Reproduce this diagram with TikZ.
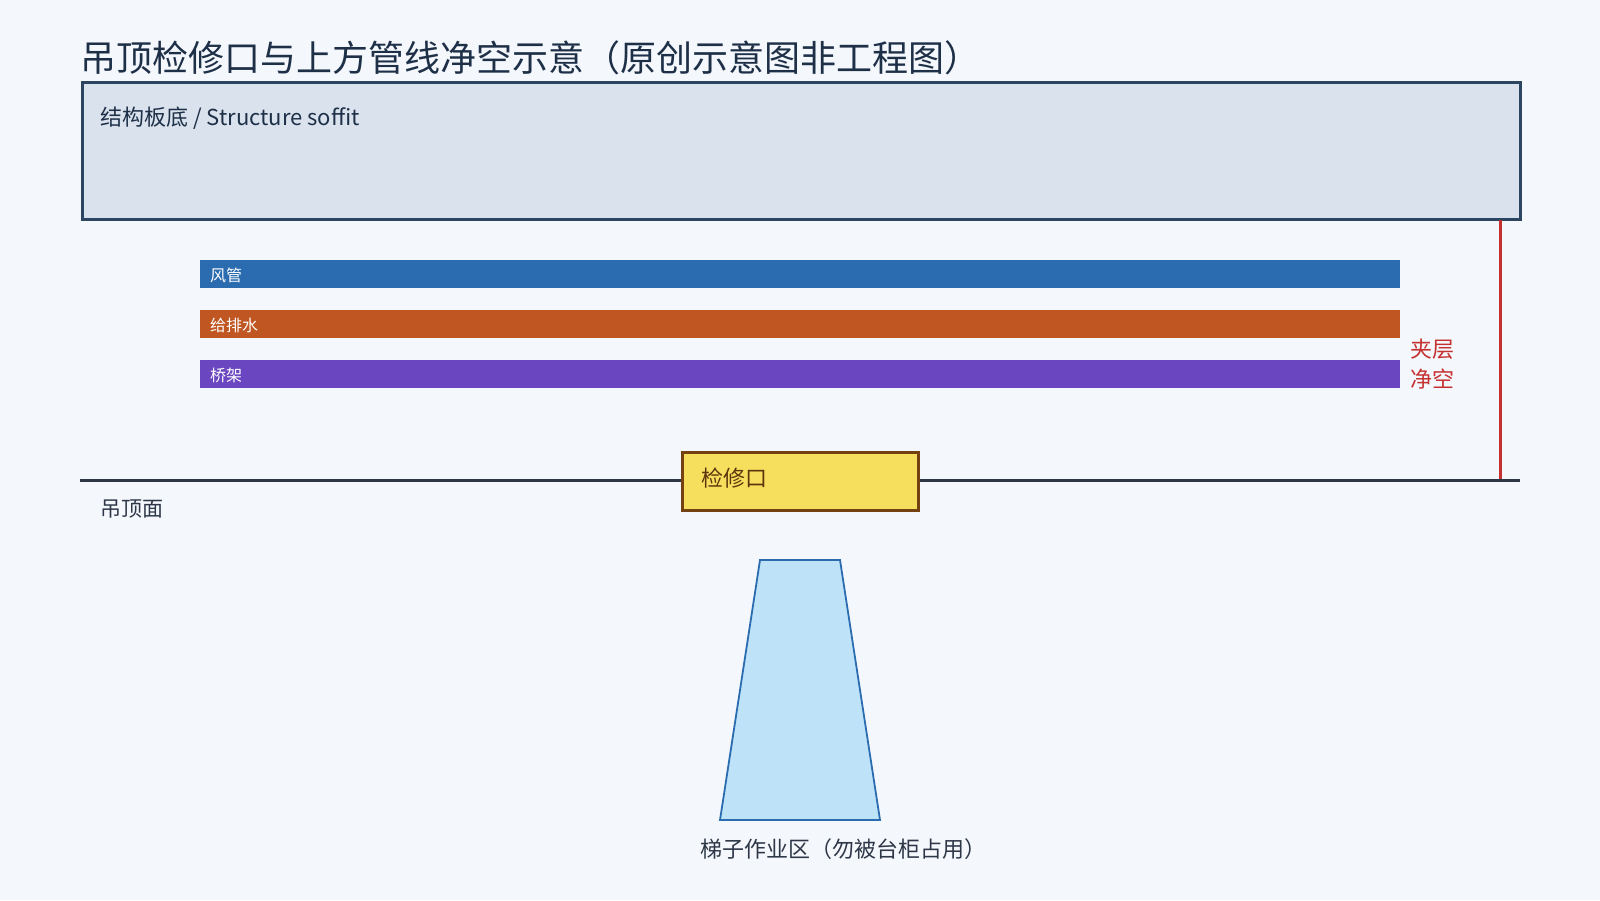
\documentclass[tikz,border=0pt]{standalone}
\usepackage{fontspec}
\setmainfont{Noto Sans CJK SC}
\definecolor{bg}{HTML}{F4F7FB}
\definecolor{ink}{HTML}{1E3048}
\definecolor{slabfill}{HTML}{DAE2ED}
\definecolor{slabline}{HTML}{2C4560}
\definecolor{duct}{HTML}{2B6CB0}
\definecolor{water}{HTML}{C05621}
\definecolor{tray}{HTML}{6B46C1}
\definecolor{clr}{HTML}{C53030}
\definecolor{hatchfill}{HTML}{F7DF5E}
\definecolor{hatchline}{HTML}{744210}
\definecolor{ladderfill}{HTML}{BEE3F8}
\definecolor{ceilline}{HTML}{2D3748}
\tikzset{
  txt/.style={anchor=west, inner sep=0pt, text=ink},
  pipe/.style={anchor=north west, inner sep=0pt, minimum width=1200pt, minimum height=28pt, draw=none},
  pipelabel/.style={anchor=west, inner sep=0pt, text=white, font=\fontsize{16}{18}\selectfont},
}
\begin{document}
\begin{tikzpicture}[x=1pt,y=-1pt]
\useasboundingbox[fill=bg] (0,0) rectangle (1600,900);
% title
\node[txt, font=\fontsize{36}{44}\selectfont] (title) at (80,58) {吊顶检修口与上方管线净空示意（原创示意图非工程图）};
% slab
\node[anchor=north west, draw=slabline, fill=slabfill, line width=2.5pt, minimum width=1438pt, minimum height=137pt, inner sep=0pt] (slab) at (81,81) {};
\node[txt, font=\fontsize{22}{26}\selectfont] (slablabel) at (100,118) {结构板底 / Structure soffit};
% pipes
\node[pipe, fill=duct] (duct) at (200,260) {};
\node[pipelabel] (ductlabel) at (210,275) {风管};
\node[pipe, fill=water] (water) at (200,310) {};
\node[pipelabel] (waterlabel) at (210,325) {给排水};
\node[pipe, fill=tray] (tray) at (200,360) {};
\node[pipelabel] (traylabel) at (210,375) {桥架};
% ceiling line
\coordinate (ceilL) at (80,480.5);
\coordinate (ceilR) at (1520,480.5);
\draw[ceilline, line width=3.5pt] (ceilL) -- (ceilR);
% clearance
\coordinate (clrTop) at (1500,220);
\coordinate (clrBot) at (1500,479);
\draw[clr, line width=3pt] (clrTop) -- (clrBot);
\node[anchor=west, inner sep=0pt, text=clr, font=\fontsize{22}{30}\selectfont, align=left] (clrlabel) at (1410,364) {夹层\\净空};
% hatch
\node[anchor=north west, draw=hatchline, fill=hatchfill, line width=2.5pt, minimum width=236pt, minimum height=58pt, inner sep=0pt] (hatch) at (681,451) {};
\node[anchor=west, inner sep=0pt, text=hatchline!80!black, font=\fontsize{22}{26}\selectfont] (hatchlabel) at (701,478) {检修口};
\node[txt, font=\fontsize{21}{24}\selectfont, text=ceilline] (ceillabel) at (100,509) {吊顶面};
% ladder zone
\coordinate (lTL) at (760,560);
\coordinate (lTR) at (840,560);
\coordinate (lBR) at (880,820);
\coordinate (lBL) at (720,820);
\draw[draw=duct, fill=ladderfill, line width=1.8pt] (lTL) -- (lTR) -- (lBR) -- (lBL) -- cycle;
\node[txt, font=\fontsize{22}{26}\selectfont, text=ceilline] (ladderlabel) at (700,849) {梯子作业区（勿被台柜占用）};
\end{tikzpicture}
\end{document}
